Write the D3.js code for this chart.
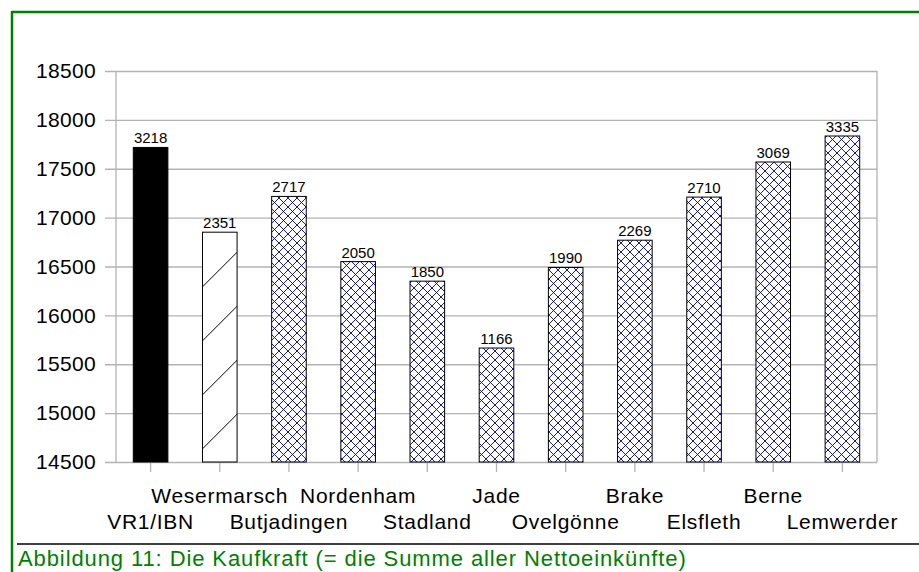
<!DOCTYPE html>
<html>
<head>
<meta charset="utf-8">
<script src="https://cdn.jsdelivr.net/npm/d3@7"></script>
<style>
  body { margin: 0; background: #fff; }
  svg { display: block; font-family: "Liberation Sans", Arial, sans-serif; }
</style>
</head>
<body>
<svg id="chart" width="919" height="572"></svg>
<script>
const categories = ["VR1/IBN", "Wesermarsch", "Butjadingen", "Nordenham", "Stadland", "Jade", "Ovelgönne", "Brake", "Elsfleth", "Berne", "Lemwerder"];
const values = [17718, 16851, 17217, 16550, 16350, 15666, 16490, 16769, 17210, 17569, 17835];
const valueLabels = ["3218", "2351", "2717", "2050", "1850", "1166", "1990", "2269", "2710", "3069", "3335"];
const fills = ["solid", "hatch", "cross", "cross", "cross", "cross", "cross", "cross", "cross", "cross", "cross"];
const yTicks = [14500, 15000, 15500, 16000, 16500, 17000, 17500, 18000, 18500];
const caption = "Abbildung 11: Die Kaufkraft (= die Summe aller Nettoeinkünfte)";

const svg = d3.select("#chart");
const W = 919, H = 572;
const plot = { left: 116, right: 877, top: 71, bottom: 462 };
const green = "#008000";
const gridColor = "#b3b3b3";

const x = d3.scaleBand().domain(categories).range([plot.left, plot.right]).paddingInner(0.5).paddingOuter(0.25);
const y = d3.scaleLinear().domain([14500, 18500]).range([plot.bottom, plot.top]);

// patterns
const defs = svg.append("defs");
const P = 9;
const cp = defs.append("pattern").attr("id", "cross").attr("patternUnits", "userSpaceOnUse")
  .attr("width", P).attr("height", P);
cp.append("rect").attr("width", P).attr("height", P).attr("fill", "#fff");
cp.append("path").attr("d", `M0,0L${P},${P}M${P},0L0,${P}M-1,1L1,-1M${P-1},${P+1}L${P+1},${P-1}M-1,${P-1}L1,${P+1}M${P-1},-1L${P+1},1`)
  .attr("stroke", "#00008c").attr("stroke-width", 0.9).attr("fill", "none");

const hp = defs.append("pattern").attr("id", "hatch").attr("patternUnits", "userSpaceOnUse")
  .attr("width", 54).attr("height", 54).attr("x", 3.3).attr("y", 0);
hp.append("rect").attr("width", 54).attr("height", 54).attr("fill", "#fff");
hp.append("path").attr("d", "M0,54L54,0M-5,5L5,-5M49,59L59,49")
  .attr("stroke", "#000").attr("stroke-width", 1).attr("fill", "none");

// frame
svg.append("rect").attr("width", W).attr("height", H).attr("fill", "#fff");
svg.append("line").attr("x1", 12).attr("x2", W).attr("y1", 12).attr("y2", 12)
  .attr("stroke", green).attr("stroke-width", 2.5);
svg.append("line").attr("x1", 12).attr("x2", 12).attr("y1", 11).attr("y2", H)
  .attr("stroke", green).attr("stroke-width", 2.5);

// grid + y axis
const yAxis = d3.axisLeft(y).tickValues(yTicks).tickSize(plot.right - plot.left + 11).tickPadding(9).tickFormat(d3.format("d"));
const gy = svg.append("g").attr("transform", `translate(${plot.right},0)`).call(yAxis);
gy.select(".domain").remove();
gy.selectAll(".tick line").attr("stroke", gridColor).attr("stroke-width", 1.3);
gy.selectAll(".tick text").attr("fill", "#000").attr("font-size", 21).attr("letter-spacing", 0.3)
  .attr("font-family", "Liberation Sans, Arial, sans-serif");

// plot border verticals
svg.append("line").attr("x1", plot.left).attr("x2", plot.left).attr("y1", plot.top).attr("y2", plot.bottom)
  .attr("stroke", gridColor).attr("stroke-width", 1.3);
svg.append("line").attr("x1", plot.right).attr("x2", plot.right).attr("y1", plot.top).attr("y2", plot.bottom)
  .attr("stroke", gridColor).attr("stroke-width", 1.3);

// x axis
const xAxis = d3.axisBottom(x).tickSize(10).tickFormat("");
const gx = svg.append("g").attr("transform", `translate(0,${plot.bottom})`).call(xAxis);
gx.select(".domain").remove();
gx.selectAll(".tick line").attr("stroke", gridColor).attr("stroke-width", 1.3);

// category labels in two staggered rows
svg.append("g").selectAll("text").data(categories).join("text")
  .attr("x", d => x(d) + x.bandwidth() / 2)
  .attr("y", (d, i) => i % 2 === 1 ? 503 : 529)
  .attr("text-anchor", "middle").attr("font-size", 21).attr("letter-spacing", 0.7).attr("fill", "#000")
  .text(d => d);

// bars
svg.append("g").selectAll("rect").data(categories).join("rect")
  .attr("x", d => x(d))
  .attr("y", (d, i) => y(values[i]))
  .attr("width", x.bandwidth())
  .attr("height", (d, i) => y(14500) - y(values[i]))
  .attr("fill", (d, i) => fills[i] === "solid" ? "#000" : `url(#${fills[i]})`)
  .attr("stroke", "#000").attr("stroke-width", 1);

// value labels
svg.append("g").selectAll("text").data(categories).join("text")
  .attr("x", d => x(d) + x.bandwidth() / 2)
  .attr("y", (d, i) => y(values[i]) - 4)
  .attr("text-anchor", "middle").attr("font-size", 15).attr("fill", "#000")
  .text((d, i) => valueLabels[i]);

// caption
svg.append("line").attr("x1", 17).attr("x2", W).attr("y1", 544).attr("y2", 544)
  .attr("stroke", "#000").attr("stroke-width", 1.3);
svg.append("text").attr("x", 18).attr("y", 566).attr("font-size", 22).attr("letter-spacing", 0.9).attr("fill", green)
  .text(caption);
</script>
</body>
</html>
